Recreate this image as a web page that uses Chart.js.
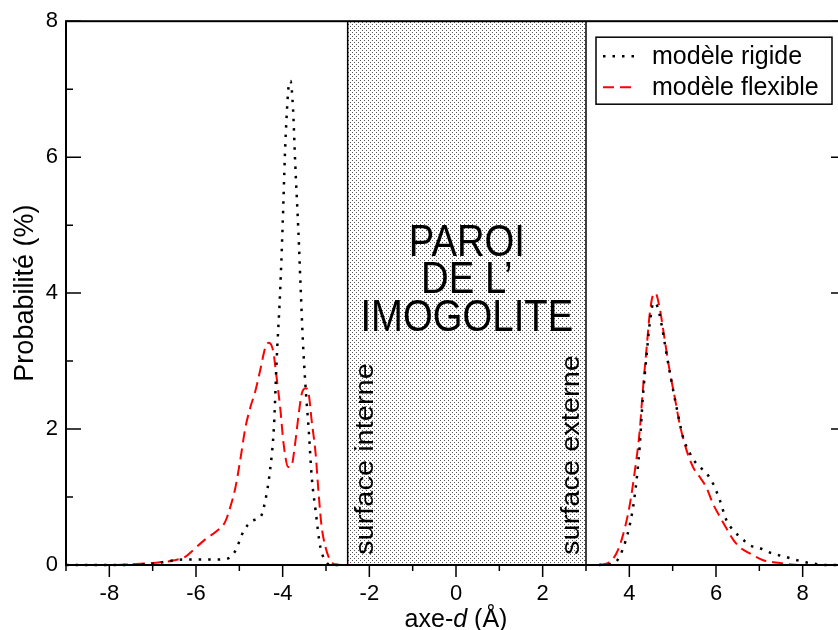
<!DOCTYPE html>
<html lang="fr">
<head>
<meta charset="utf-8">
<title>Probabilité le long de l'axe d</title>
<script src="https://cdn.jsdelivr.net/npm/chart.js@4/dist/chart.umd.min.js"></script>
<style>
  html, body { margin: 0; padding: 0; background: #fff; overflow: hidden; }
  #wrap { width: 838px; height: 630px; overflow: hidden; }
  canvas { display: block; }
</style>
</head>
<body>
<div id="wrap"><canvas id="chart" width="850" height="630"></canvas></div>
<script>
// --- data (x in Å, y in %) ---
const rigidX = [-9, -8, -7, -6.6, -6.3, -6.0, -5.6, -5.3, -5.1, -4.9, -4.7, -4.5, -4.4, -4.3, -4.2, -4.14, -4.06, -4.0, -3.95, -3.9, -3.85, -3.82, -3.76, -3.71, -3.64, -3.58, -3.53, -3.47, -3.4, -3.33, -3.24, -3.13, -3.02, -2.9, -2.6,
  null,
  3.3, 3.6, 3.7, 3.84, 4.0, 4.12, 4.24, 4.31, 4.4, 4.47, 4.56, 4.65, 4.74, 4.86, 4.97, 5.09, 5.24, 5.4, 5.55, 5.78, 5.93, 6.09, 6.24, 6.4, 6.63, 6.78, 7.0, 7.3, 7.6, 8.0, 8.25, 8.5, 9];
const rigidY = [0, 0, 0.02, 0.06, 0.08, 0.08, 0.08, 0.09, 0.2, 0.5, 0.65, 0.72, 0.95, 1.35, 2.05, 3.0, 4.0, 5.0, 6.0, 6.7, 7.1, 7.12, 6.7, 5.9, 4.95, 4.0, 3.25, 2.6, 2.0, 1.3, 0.8, 0.26, 0.07, 0, 0,
  null,
  0, 0.02, 0.05, 0.22, 0.56, 1.0, 1.75, 2.45, 3.1, 3.55, 3.86, 3.8, 3.55, 3.1, 2.71, 2.32, 1.88, 1.64, 1.49, 1.35, 1.2, 0.95, 0.66, 0.51, 0.37, 0.29, 0.25, 0.17, 0.12, 0.05, 0.02, 0, 0];

const flexX = [-9, -8, -7.5, -7.0, -6.5, -6.25, -6.1, -5.8, -5.5, -5.33, -5.21, -5.09, -4.98, -4.86, -4.75, -4.63, -4.52, -4.4, -4.32, -4.22, -4.14, -4.05, -3.98, -3.87, -3.8, -3.71, -3.63, -3.56, -3.47, -3.4, -3.33, -3.24, -3.17, -3.1, -3.01, -2.94, -2.8, -2.6,
  null,
  3.3, 3.54, 3.7, 3.84, 4.0, 4.12, 4.24, 4.31, 4.4, 4.47, 4.54, 4.6, 4.7, 4.81, 4.93, 5.05, 5.16, 5.32, 5.47, 5.63, 5.78, 5.93, 6.09, 6.24, 6.4, 6.55, 6.78, 7.09, 7.48, 7.9, 9];
const flexY = [0, 0, 0.01, 0.03, 0.07, 0.12, 0.2, 0.37, 0.51, 0.63, 0.85, 1.14, 1.54, 2.02, 2.31, 2.56, 2.86, 3.2, 3.27, 3.15, 2.76, 2.27, 1.79, 1.44, 1.45, 1.8, 2.22, 2.52, 2.6, 2.52, 2.12, 1.64, 1.05, 0.56, 0.26, 0.12, 0.01, 0,
  null,
  0, 0.04, 0.17, 0.41, 0.85, 1.35, 1.98, 2.56, 3.2, 3.69, 3.96, 4.0, 3.78, 3.34, 2.86, 2.46, 2.08, 1.69, 1.44, 1.29, 1.14, 0.9, 0.71, 0.54, 0.37, 0.26, 0.17, 0.07, 0.03, 0, 0];

const seriesLabels = ['modèle rigide', 'modèle flexible'];
const xTicks = [-8, -6, -4, -2, 0, 2, 4, 6, 8];
const yTicks = [0, 2, 4, 6, 8];
const wallRange = [-2.5, 3.0];
const wallText = ['PAROI', 'DE L’', 'IMOGOLITE'];
const surfaceText = ['surface interne', 'surface externe'];

const FONT = "'Liberation Sans', Arial, Helvetica, sans-serif";

function toPoints(xs, ys) {
  return xs.map((x, i) => ({ x: x === null ? NaN : x, y: ys[i] }));
}

// stippled wall + its labels, under the curves
const wallPlugin = {
  id: 'wall',
  beforeDatasetsDraw(chart) {
    const { ctx, chartArea: a, scales: { x } } = chart;
    const x0 = x.getPixelForValue(wallRange[0]);
    const x1 = x.getPixelForValue(wallRange[1]);

    const tile = document.createElement('canvas');
    tile.width = 4; tile.height = 4;
    const t = tile.getContext('2d');
    t.fillStyle = '#fff';
    t.fillRect(0, 0, 4, 4);
    t.fillStyle = '#555';
    t.fillRect(0, 0, 1, 1);
    t.fillRect(2, 2, 1, 1);

    ctx.save();
    ctx.fillStyle = ctx.createPattern(tile, 'repeat');
    ctx.fillRect(x0, a.top, x1 - x0, a.bottom - a.top);
    ctx.strokeStyle = '#000';
    ctx.lineWidth = 1.5;
    ctx.beginPath();
    ctx.moveTo(x0, a.top); ctx.lineTo(x0, a.bottom);
    ctx.moveTo(x1, a.top); ctx.lineTo(x1, a.bottom);
    ctx.stroke();

    // big centred label
    const cx = (x0 + x1) / 2;
    ctx.fillStyle = '#000';
    ctx.textAlign = 'center';
    ctx.textBaseline = 'alphabetic';
    ctx.font = '44px ' + FONT;
    const baselines = [256, 293, 331];
    wallText.forEach((s, i) => {
      ctx.save();
      ctx.translate(cx, baselines[i]);
      ctx.scale(0.87, 1);
      ctx.fillText(s, 0, 0);
      ctx.restore();
    });

    // rotated surface labels
    ctx.font = '29px ' + FONT;
    ctx.textAlign = 'left';
    ctx.textBaseline = 'middle';
    [[x0 + 18, surfaceText[0]], [x1 - 14, surfaceText[1]]].forEach(([px, s]) => {
      ctx.save();
      ctx.translate(px, a.bottom - 10);
      ctx.rotate(-Math.PI / 2);
      ctx.scale(1, 0.9);
      ctx.fillText(s, 0, 0);
      ctx.restore();
    });
    ctx.restore();
  }
};

// frame and tick marks (bottom ticks outward, side ticks inward)
const frameTicksPlugin = {
  id: 'frameTicks',
  afterDatasetsDraw(chart) {
    const { ctx, chartArea: a, scales: { x, y } } = chart;
    ctx.save();
    ctx.strokeStyle = '#000';
    ctx.lineWidth = 2;
    ctx.strokeRect(a.left, a.top, a.right - a.left, a.bottom - a.top);

    ctx.lineWidth = 1.5;
    ctx.beginPath();
    for (let v = Math.ceil(x.min); v <= x.max; v++) {
      const px = x.getPixelForValue(v);
      const len = xTicks.includes(v) ? 12 : 6;
      ctx.moveTo(px, a.bottom);
      ctx.lineTo(px, a.bottom + len);
    }
    for (let v = Math.ceil(y.min); v <= y.max; v++) {
      const py = y.getPixelForValue(v);
      const len = yTicks.includes(v) ? 15 : 7;
      ctx.moveTo(a.left, py); ctx.lineTo(a.left + len, py);
      ctx.moveTo(a.right, py); ctx.lineTo(a.right - len, py);
    }
    ctx.stroke();
    ctx.restore();
  }
};

// boxed legend in the top right corner
const legendBoxPlugin = {
  id: 'legendBox',
  afterDraw(chart) {
    const { ctx, chartArea: a } = chart;
    const bx = a.right - 250, by = a.top + 16, bw = 236, bh = 67;
    ctx.save();
    ctx.fillStyle = '#fff';
    ctx.fillRect(bx, by, bw, bh);
    ctx.strokeStyle = '#000';
    ctx.lineWidth = 1.5;
    ctx.strokeRect(bx, by, bw, bh);

    chart.data.datasets.forEach((ds, i) => {
      const ry = by + 19 + i * 31;
      ctx.strokeStyle = ds.borderColor;
      ctx.lineWidth = ds.borderWidth;
      ctx.setLineDash(ds.borderDash);
      ctx.beginPath();
      ctx.moveTo(bx + 7, ry);
      ctx.lineTo(bx + 40, ry);
      ctx.stroke();
      ctx.setLineDash([]);
      ctx.fillStyle = '#000';
      ctx.font = '25px ' + FONT;
      ctx.textBaseline = 'middle';
      ctx.textAlign = 'left';
      ctx.fillText(ds.label, bx + 56, ry + 1);
    });
    ctx.restore();
  }
};

// x title with an italic "d"
const xTitlePlugin = {
  id: 'xTitle',
  afterDraw(chart) {
    const { ctx, scales: { x } } = chart;
    const parts = [['axe-', 'normal'], ['d', 'italic'], [' (Å)', 'normal']];
    ctx.save();
    ctx.fillStyle = '#000';
    ctx.textBaseline = 'alphabetic';
    ctx.textAlign = 'left';
    let w = 0;
    parts.forEach(([s, st]) => { ctx.font = st + ' 25px ' + FONT; w += ctx.measureText(s).width; });
    let px = x.getPixelForValue(0) - w / 2;
    parts.forEach(([s, st]) => {
      ctx.font = st + ' 25px ' + FONT;
      ctx.fillText(s, px, 627);
      px += ctx.measureText(s).width;
    });
    ctx.restore();
  }
};

new Chart(document.getElementById('chart'), {
  type: 'line',
  data: {
    datasets: [{
      label: seriesLabels[0],
      data: toPoints(rigidX, rigidY),
      borderColor: '#000',
      borderWidth: 2.5,
      borderDash: [2.5, 7],
      borderCapStyle: 'butt',
      pointRadius: 0,
      cubicInterpolationMode: 'monotone',
      spanGaps: false,
      clip: 4
    }, {
      label: seriesLabels[1],
      data: toPoints(flexX, flexY),
      borderColor: '#ff0000',
      borderWidth: 2,
      borderDash: [11, 6],
      borderCapStyle: 'butt',
      pointRadius: 0,
      cubicInterpolationMode: 'monotone',
      spanGaps: false,
      clip: 4
    }]
  },
  options: {
    responsive: false,
    animation: false,
    devicePixelRatio: 1,
    layout: { padding: { top: 19, right: 4, left: 0, bottom: 0 } },
    plugins: {
      legend: { display: false },
      tooltip: { enabled: false }
    },
    scales: {
      x: {
        type: 'linear',
        min: -9,
        max: 9,
        afterBuildTicks: s => { s.ticks = xTicks.map(v => ({ value: v })); },
        afterFit: s => { s.height = 65; },
        grid: { display: false, drawTicks: false },
        border: { display: false },
        ticks: {
          color: '#000',
          font: { family: FONT, size: 22 },
          padding: 16,
          maxRotation: 0,
          autoSkip: false
        }
      },
      y: {
        type: 'linear',
        min: 0,
        max: 8,
        afterBuildTicks: s => { s.ticks = yTicks.map(v => ({ value: v })); },
        afterFit: s => { s.width = 66; },
        grid: { display: false, drawTicks: false },
        border: { display: false },
        ticks: {
          color: '#000',
          font: { family: FONT, size: 22 },
          padding: 8
        },
        title: {
          display: true,
          text: 'Probabilité (%)',
          color: '#000',
          font: { family: FONT, size: 27 },
          padding: { top: 9, bottom: 0 }
        }
      }
    }
  },
  plugins: [wallPlugin, frameTicksPlugin, legendBoxPlugin, xTitlePlugin]
});
</script>
</body>
</html>
